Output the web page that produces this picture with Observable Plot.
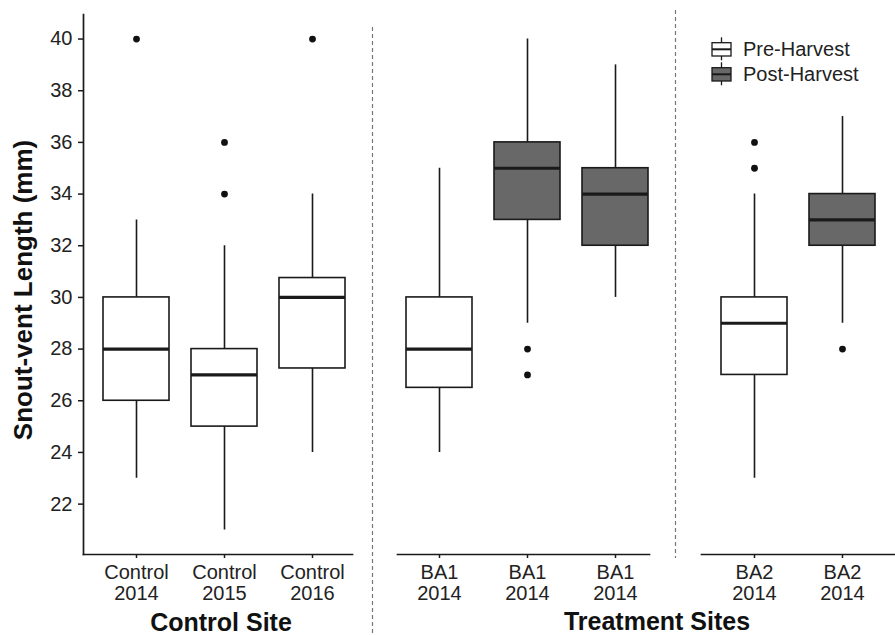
<!DOCTYPE html>
<html><head><meta charset="utf-8">
<script src="https://cdn.jsdelivr.net/npm/d3@7"></script>
<script src="https://cdn.jsdelivr.net/npm/@observablehq/plot@0.6"></script>
<style>
body{margin:0;background:#fff;}
#chart{position:relative;width:895px;height:635px;overflow:hidden;font-family:"Liberation Sans",Arial,sans-serif;}
#chart svg{position:absolute;left:0;top:0;}
</style></head><body><div id="chart"></div>
<script>
// ---- data ----
const boxIds = ["Control 2014","Control 2015","Control 2016","BA1 2014 pre","BA1 2014 post A","BA1 2014 post B","BA2 2014 pre","BA2 2014 post"];
const tickLabels = ["Control\n2014","Control\n2015","Control\n2016","BA1\n2014","BA1\n2014","BA1\n2014","BA2\n2014","BA2\n2014"];
const boxPanel = ["control","control","control","BA1","BA1","BA1","BA2","BA2"];
const boxHarvest = ["Pre-Harvest","Pre-Harvest","Pre-Harvest","Pre-Harvest","Post-Harvest","Post-Harvest","Pre-Harvest","Post-Harvest"];
const whiskerLow  = [23, 21, 24,    24,   29, 30, 23, 29];
const q1          = [26, 25, 27.25, 26.5, 33, 32, 27, 32];
const median      = [28, 27, 30,    28,   35, 34, 29, 33];
const q3          = [30, 28, 30.75, 30,   36, 35, 30, 34];
const whiskerHigh = [33, 32, 34,    35,   40, 39, 34, 37];
const outlierBox   = ["Control 2014","Control 2015","Control 2015","Control 2016","BA1 2014 post A","BA1 2014 post A","BA2 2014 pre","BA2 2014 pre","BA2 2014 post"];
const outlierValue = [40, 34, 36, 40, 28, 27, 36, 35, 28];
const harvestLevels = ["Pre-Harvest","Post-Harvest"];
const harvestFill = ["#ffffff","#686868"];
const yTicks = [22,24,26,28,30,32,34,36,38,40];
const yDomain = [20.05, 40.95];
const yTitle = "Snout-vent Length (mm)";
const groupTitles = ["Control Site","Treatment Sites"];

// ---- build ----
const boxes = boxIds.map((id,i)=>({id, label:tickLabels[i], panel:boxPanel[i], harvest:boxHarvest[i],
  lo:whiskerLow[i], q1:q1[i], med:median[i], q3:q3[i], hi:whiskerHigh[i]}));
const outliers = outlierBox.map((id,i)=>({id, value:outlierValue[i], panel:boxPanel[boxIds.indexOf(id)]}));
const labelOf = Object.fromEntries(boxes.map(b=>[b.id,b.label]));

const W = 895, H = 635, INK = "#1a1a1a";
const layout = [
  {key:"control", left:83,  right:352, range:[79.7,367.3], yAxis:true},
  {key:"BA1",     left:397, right:649, range:[383.7,669.7], yAxis:false},
  {key:"BA2",     left:701, right:895, range:[698,897],     yAxis:false}
];
const chart = document.getElementById("chart");

for (const p of layout) {
  const rows = boxes.filter(b=>b.panel===p.key);
  const outs = outliers.filter(o=>o.panel===p.key);
  const svg = Plot.plot({
    width: W, height: H,
    marginTop: 14, marginBottom: H-554, marginLeft: p.left, marginRight: W-p.right,
    style: {background:"none", overflow:"visible", fontFamily:'"Liberation Sans",Arial,sans-serif', fontSize:"20px", color:"#222"},
    x: {type:"band", domain: rows.map(r=>r.id), range:p.range, paddingInner:0.25, paddingOuter:0.25, align:0.5, axis:null},
    y: {domain: yDomain, axis:null},
    color: {domain: harvestLevels, range: harvestFill},
    marks: [
      Plot.ruleX(rows, {x:"id", y1:"lo", y2:"hi", stroke:INK, strokeWidth:1.6}),
      Plot.barY(rows, {x:"id", y1:"q1", y2:"q3", fill:"harvest", stroke:INK, strokeWidth:1.6}),
      Plot.tickY(rows, {x:"id", y:"med", stroke:INK, strokeWidth:3.2}),
      Plot.dot(outs, {x:"id", y:"value", r:3.4, fill:"#111", stroke:null}),
      Plot.axisX({tickSize:4, tickPadding:5, tickFormat:d=>labelOf[d], fontSize:20, lineHeight:1.08, label:null, stroke:INK, strokeWidth:1.5}),
      p.yAxis ? Plot.axisY({ticks:yTicks, tickSize:5, tickPadding:6, fontSize:20, label:null, stroke:INK, strokeWidth:1.5}) : null,
      Plot.frame({anchor:"bottom", stroke:INK, strokeWidth:1.7}),
      p.yAxis ? Plot.frame({anchor:"left", stroke:INK, strokeWidth:1.7}) : null
    ]
  });
  chart.appendChild(svg);
}

// ---- overlay: dividers, legend, titles ----
const ov = d3.select(chart).append("svg").attr("width",W).attr("height",H)
  .attr("font-family",'"Liberation Sans",Arial,sans-serif').attr("fill","#111");
ov.append("line").attr("x1",372.5).attr("x2",372.5).attr("y1",27).attr("y2",635)
  .attr("stroke","#777").attr("stroke-width",1.2).attr("stroke-dasharray","4 3");
ov.append("line").attr("x1",675.5).attr("x2",675.5).attr("y1",10).attr("y2",558)
  .attr("stroke","#777").attr("stroke-width",1.2).attr("stroke-dasharray","4 3");

harvestLevels.forEach((lvl,i)=>{
  const g = ov.append("g").attr("transform",`translate(712,${37.3+i*25})`);
  g.append("line").attr("x1",9.5).attr("x2",9.5).attr("y1",0).attr("y2",23).attr("stroke",INK).attr("stroke-width",1.3);
  g.append("rect").attr("x",0).attr("y",5.4).attr("width",19).attr("height",13.3)
    .attr("fill",harvestFill[i]).attr("stroke",INK).attr("stroke-width",1.3);
  g.append("line").attr("x1",0).attr("x2",19).attr("y1",12).attr("y2",12).attr("stroke",INK).attr("stroke-width",2);
  ov.append("text").attr("x",743).attr("y",56+i*25).attr("font-size",20).attr("fill","#222").text(lvl);
});

ov.append("text").attr("x",221).attr("y",631).attr("text-anchor","middle")
  .attr("font-size",25).attr("font-weight","bold").text(groupTitles[0]);
ov.append("text").attr("x",657).attr("y",630).attr("text-anchor","middle")
  .attr("font-size",25).attr("font-weight","bold").text(groupTitles[1]);
ov.append("text").attr("transform","translate(31.5,290) rotate(-90)").attr("text-anchor","middle")
  .attr("font-size",26).attr("font-weight","bold").text(yTitle);
</script></body></html>
